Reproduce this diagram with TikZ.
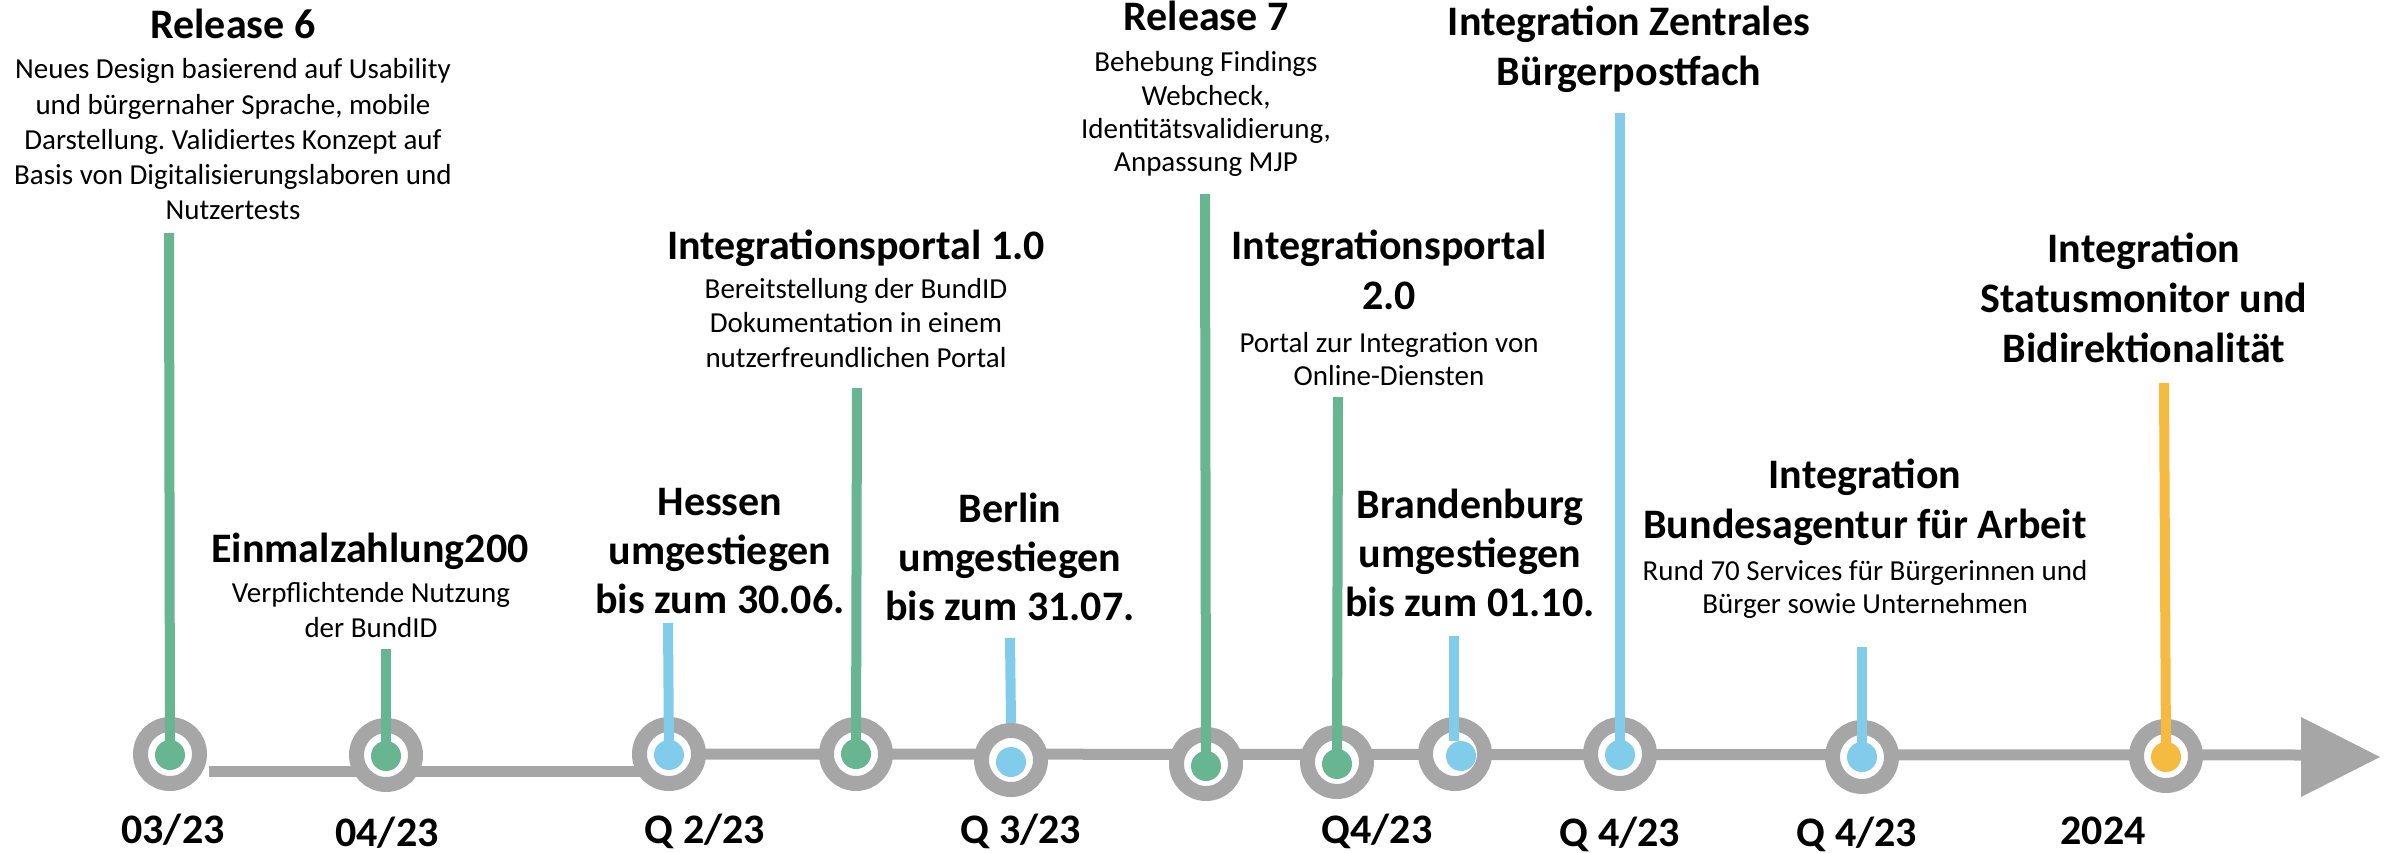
\documentclass[tikz,border=0pt]{standalone}
\usepackage{fontspec}
\setmainfont{Carlito}
\frenchspacing
\definecolor{tlgrey}{RGB}{166,166,166}
\definecolor{tlgreen}{RGB}{103,181,145}
\definecolor{tlblue}{RGB}{130,204,235}
\definecolor{tlorange}{RGB}{245,186,63}
\newcommand\mlines[1]{\begin{tabular}[t]{@{}c@{}}#1\end{tabular}}
\begin{document}
\begin{tikzpicture}[x=1pt,y=-1pt,
  hd/.style={anchor=base, inner sep=0, font=\fontsize{42}{50}\selectfont\bfseries},
  bd/.style={anchor=base, inner sep=0, font=\fontsize{29}{34}\selectfont},
  dt/.style={anchor=base, inner sep=0, font=\fontsize{42}{50}\selectfont\bfseries},
  ring/.style={circle, draw=tlgrey, line width=15pt, fill=white, minimum size=59pt, inner sep=0},
  dot/.style={circle, minimum size=30pt, inner sep=0},
  stem/.style={line width=10pt},
  tline/.style={tlgrey, line width=11pt}]
\useasboundingbox (0,0) rectangle (2393,853);

% texts
\node[hd] (r6h) at (233,39) {Release 6};
\node[bd, font=\fontsize{29}{35.2}\selectfont] (r6b) at (233,79) {\mlines{Neues Design basierend auf Usability\\und bürgernaher Sprache, mobile\\Darstellung. Validiertes Konzept auf\\Basis von Digitalisierungslaboren und\\Nutzertests}};
\node[hd] (e2h) at (370,562) {Einmalzahlung200};
\node[bd, font=\fontsize{29}{35}\selectfont] (e2b) at (371,602) {\mlines{Verpflichtende Nutzung\\der BundID}};
\node[hd, font=\fontsize{42}{49}\selectfont\bfseries] (heh) at (720,515) {\mlines{Hessen\\umgestiegen\\bis zum 30.06.}};
\node[hd] (i1h) at (856,259) {Integrationsportal 1.0};
\node[bd, font=\fontsize{29}{34.5}\selectfont] (i1b) at (856,298) {\mlines{Bereitstellung der BundID\\Dokumentation in einem\\nutzerfreundlichen Portal}};
\node[hd, font=\fontsize{42}{49}\selectfont\bfseries] (beh) at (1010,522) {\mlines{Berlin\\umgestiegen\\bis zum 31.07.}};
\node[hd] (r7h) at (1206,31) {Release 7};
\node[bd, font=\fontsize{29}{33.3}\selectfont] (r7b) at (1206,72) {\mlines{Behebung Findings\\Webcheck,\\Identitätsvalidierung,\\Anpassung MJP}};
\node[hd] (i2h) at (1389,259) {\mlines{Integrationsportal\\2.0}};
\node[bd, font=\fontsize{29}{33}\selectfont] (i2b) at (1389,352) {\mlines{Portal zur Integration von\\Online-Diensten}};
\node[hd, font=\fontsize{42}{49}\selectfont\bfseries] (brh) at (1470,518) {\mlines{Brandenburg\\umgestiegen\\bis zum 01.10.}};
\node[hd] (bph) at (1629,36) {\mlines{Integration Zentrales\\Bürgerpostfach}};
\node[hd] (bah) at (1865,488) {\mlines{Integration\\Bundesagentur für Arbeit}};
\node[bd, font=\fontsize{29}{33}\selectfont] (bab) at (1865,580) {\mlines{Rund 70 Services für Bürgerinnen und\\Bürger sowie Unternehmen}};
\node[hd] (smh) at (2144,262) {\mlines{Integration\\Statusmonitor und\\Bidirektionalität}};

% dates
\node[dt] (d1) at (173,843) {03/23};
\node[dt] (d2) at (387,846) {04/23};
\node[dt] (d3) at (705,843) {Q 2/23};
\node[dt] (d4) at (1021,843) {Q 3/23};
\node[dt] (d5) at (1377,843) {Q4/23};
\node[dt] (d6) at (1620,846) {Q 4/23};
\node[dt] (d7) at (1857,846) {Q 4/23};
\node[dt] (d8) at (2103,844) {2024};

% timeline
\coordinate (la0) at (209,771);
\coordinate (la1) at (650,771);
\coordinate (lb0) at (690,754);
\coordinate (lb1) at (2305,755);
\draw[tline] (la0) -- (la1);
\draw[tline] (lb0) -- (lb1);
\coordinate (ah1) at (2301,717);
\coordinate (ah2) at (2380,757);
\coordinate (ah3) at (2301,797);
\fill[tlgrey] (ah1) -- (ah2) -- (ah3) -- cycle;

% rings
\node[ring] (c1) at (170,754) {};
\node[ring] (c2) at (386,755) {};
\node[ring] (c3) at (669,754) {};
\node[ring] (c4) at (856,754) {};
\node[ring] (c5) at (1011,760) {};
\node[ring] (c6) at (1206,764) {};
\node[ring] (c7) at (1337,762) {};
\node[ring] (c8) at (1455,754) {};
\node[ring] (c9) at (1620,754) {};
\node[ring] (c10) at (1862,757) {};
\node[ring] (c11) at (2166,756) {};

% dots
\node[dot, fill=tlgreen] (p1) at (170,755) {};
\node[dot, fill=tlgreen] (p2) at (386,756) {};
\node[dot, fill=tlblue] (p3) at (669,755) {};
\node[dot, fill=tlgreen] (p4) at (856,754) {};
\node[dot, fill=tlblue] (p5) at (1011,762) {};
\node[dot, fill=tlgreen] (p6) at (1206,766) {};
\node[dot, fill=tlgreen] (p7) at (1337,764) {};
\node[dot, fill=tlblue] (p8) at (1461,756) {};
\node[dot, fill=tlblue] (p9) at (1620,755) {};
\node[dot, fill=tlblue] (p10) at (1862,757) {};
\node[dot, fill=tlorange] (p11) at (2166,757) {};

% stems
\coordinate (s1) at (169,233);
\coordinate (s2) at (386,649);
\coordinate (s3) at (668,623);
\coordinate (s4) at (857,388);
\coordinate (s5) at (1010,638);
\coordinate (s6) at (1205,194);
\coordinate (s7) at (1338,397);
\coordinate (s8) at (1454,636);
\coordinate (s9) at (1620,113);
\coordinate (s10) at (1862,647);
\coordinate (s11) at (2164,383);
\draw[stem, tlgreen] (s1) -- (p1.center);
\draw[stem, tlgreen] (s2) -- (p2.center);
\draw[stem, tlblue] (s3) -- (p3.center);
\draw[stem, tlgreen] (s4) -- (p4.center);
\draw[stem, tlblue] (s5) -- (c5.north);
\draw[stem, tlgreen] (s6) -- (p6.center);
\draw[stem, tlgreen] (s7) -- (p7.center);
\draw[stem, tlblue] (s8) -- (s8 |- p8.north);
\draw[stem, tlblue] (s9) -- (p9.center);
\draw[stem, tlblue] (s10) -- (p10.center);
\draw[stem, tlorange] (s11) -- (p11.center);
\end{tikzpicture}
\end{document}
